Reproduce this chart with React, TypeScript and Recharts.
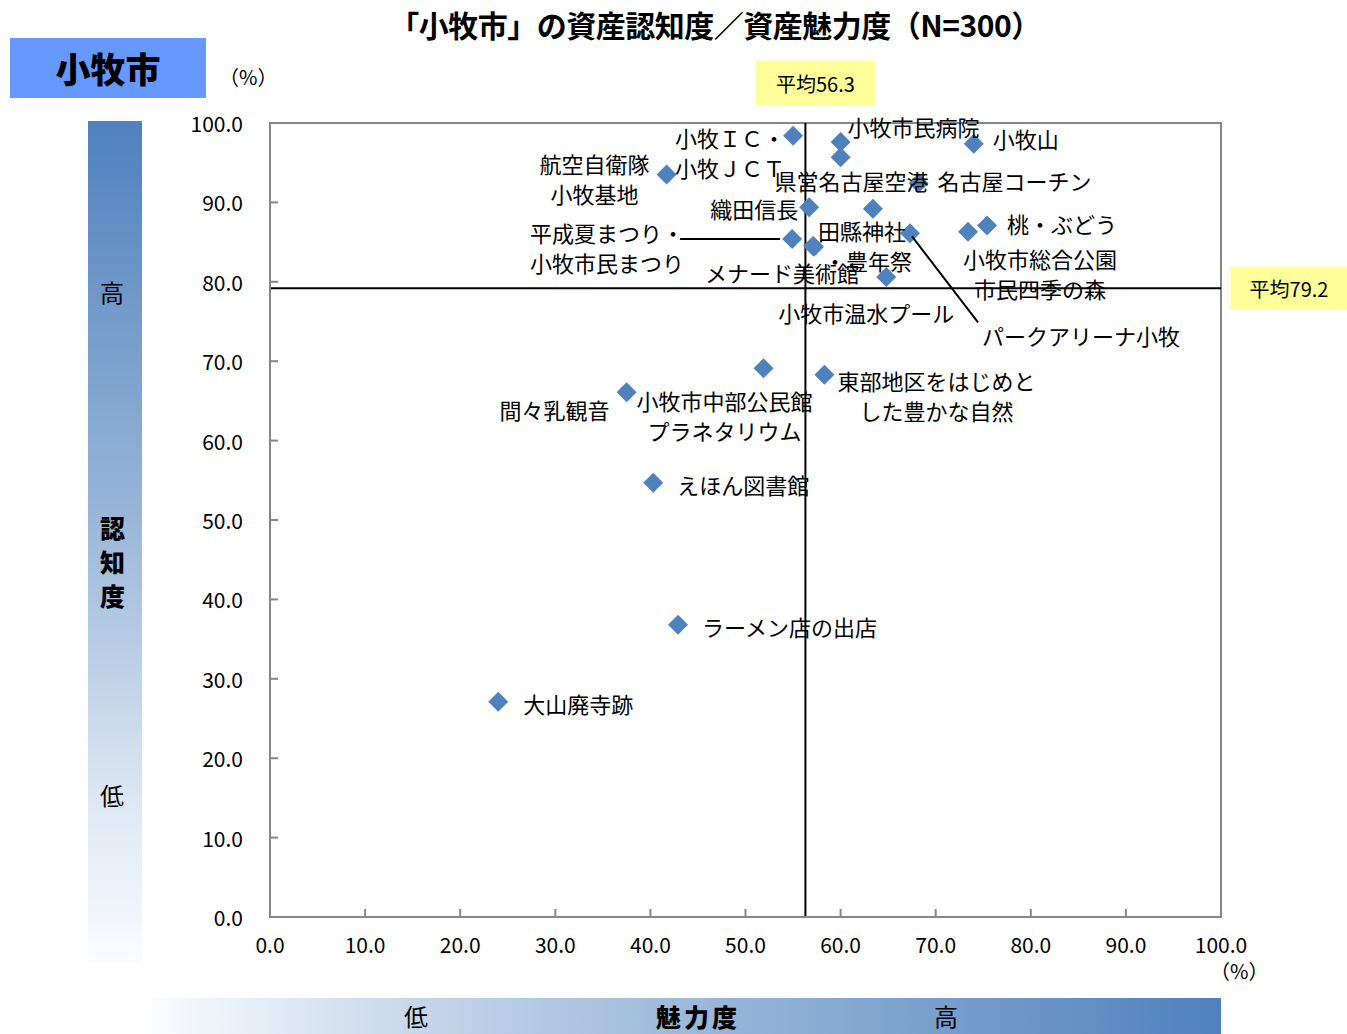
import React from "react";
import {
  ScatterChart,
  Scatter,
  XAxis,
  YAxis,
  ReferenceLine,
  ReferenceArea,
} from "recharts";

const FONT = '"Noto Sans CJK JP", "Noto Sans", sans-serif';

// 資産ごとの魅力度(x)・認知度(y)
const assetNames = [
  "小牧IC・小牧JCT",
  "小牧市民病院",
  "県営名古屋空港",
  "小牧山",
  "航空自衛隊小牧基地",
  "名古屋コーチン",
  "織田信長",
  "田縣神社",
  "パークアリーナ小牧",
  "平成夏まつり・小牧市民まつり",
  "メナード美術館",
  "豊年祭",
  "小牧市総合公園市民四季の森",
  "桃・ぶどう",
  "小牧市温水プール",
  "小牧市中部公民館プラネタリウム",
  "間々乳観音",
  "東部地区をはじめとした豊かな自然",
  "えほん図書館",
  "ラーメン店の出店",
  "大山廃寺跡",
];
const attraction = [
  55.0, 60.0, 60.0, 74.0, 41.7, 68.2, 56.7, 63.4, 67.3, 54.9, 57.1, 57.2, 73.4,
  75.4, 64.8, 51.9, 37.5, 58.3, 40.3, 42.9, 24.0,
];
const awareness = [
  98.4, 97.6, 95.7, 97.4, 93.5, 92.4, 89.4, 89.2, 86.1, 85.4, 84.5, 84.4, 86.3,
  87.1, 80.6, 69.1, 66.1, 68.3, 54.7, 36.8, 27.1,
];
const avgAttraction = 56.3;
const avgAwareness = 79.2;
const axisTicks = [0, 10, 20, 30, 40, 50, 60, 70, 80, 90, 100];

// ラベルの表示位置（点からのずれ）
type LabelPlace = {
  lines: string[];
  dx: number;
  dy: number;
  anchor: "start" | "middle" | "end";
  leader?: [number, number, number, number];
};
const labelPlaces: Record<string, LabelPlace> = {
  "小牧IC・小牧JCT": { lines: ["小牧ＩＣ・", "小牧ＪＣＴ"], dx: -118, dy: 1, anchor: "start" },
  小牧市民病院: { lines: ["小牧市民病院"], dx: 7, dy: -16, anchor: "start" },
  県営名古屋空港: { lines: ["県営名古屋空港"], dx: -66, dy: 23, anchor: "start" },
  小牧山: { lines: ["小牧山"], dx: 19, dy: -6, anchor: "start" },
  航空自衛隊小牧基地: { lines: ["航空自衛隊", "小牧基地"], dx: -72, dy: -12, anchor: "middle" },
  名古屋コーチン: { lines: ["名古屋コーチン"], dx: 19, dy: -3, anchor: "start" },
  織田信長: { lines: ["織田信長"], dx: -11, dy: 1, anchor: "end" },
  田縣神社: { lines: ["田縣神社"], dx: -55, dy: 21, anchor: "start" },
  パークアリーナ小牧: {
    lines: ["パークアリーナ小牧"],
    dx: 72,
    dy: 102,
    anchor: "start",
    leader: [2, 3, 68, 89],
  },
  "平成夏まつり・小牧市民まつり": {
    lines: ["平成夏まつり・", "小牧市民まつり"],
    dx: -185,
    dy: -7,
    anchor: "middle",
    leader: [-112, 0, -12, 0],
  },
  メナード美術館: { lines: ["メナード美術館"], dx: -108, dy: 26, anchor: "start" },
  豊年祭: { lines: ["・豊年祭"], dx: 10, dy: 13, anchor: "start" },
  小牧市総合公園市民四季の森: {
    lines: ["小牧市総合公園", "市民四季の森"],
    dx: 72,
    dy: 26,
    anchor: "middle",
  },
  "桃・ぶどう": { lines: ["桃・ぶどう"], dx: 20, dy: -2, anchor: "start" },
  小牧市温水プール: { lines: ["小牧市温水プール"], dx: -108, dy: 35, anchor: "start" },
  小牧市中部公民館プラネタリウム: {
    lines: ["小牧市中部公民館", "プラネタリウム"],
    dx: -39,
    dy: 32,
    anchor: "middle",
  },
  間々乳観音: { lines: ["間々乳観音"], dx: -17, dy: 17, anchor: "end" },
  東部地区をはじめとした豊かな自然: {
    lines: ["東部地区をはじめと", "した豊かな自然"],
    dx: 112,
    dy: 5,
    anchor: "middle",
  },
  えほん図書館: { lines: ["えほん図書館"], dx: 24, dy: 1, anchor: "start" },
  ラーメン店の出店: { lines: ["ラーメン店の出店"], dx: 24, dy: 1, anchor: "start" },
  大山廃寺跡: { lines: ["大山廃寺跡"], dx: 25, dy: 1, anchor: "start" },
};

const points = assetNames.map((name, i) => ({
  name,
  x: attraction[i],
  y: awareness[i],
}));

const Diamond = (props: any) => {
  const { cx, cy } = props;
  const r = 10;
  return (
    <path
      d={`M${cx},${cy - r} L${cx + r},${cy} L${cx},${cy + r} L${cx - r},${cy} Z`}
      fill="#4F81BD"
    />
  );
};

const PointLabel = (props: any) => {
  const { cx, cy, payload } = props;
  const place = labelPlaces[payload.name];
  if (!place) return null;
  return (
    <g>
      {place.leader && (
        <line
          x1={cx + place.leader[0]}
          y1={cy + place.leader[1]}
          x2={cx + place.leader[2]}
          y2={cy + place.leader[3]}
          stroke="#000"
          strokeWidth={2}
        />
      )}
      {place.lines.map((line, k) => (
        <text
          key={k}
          x={cx + place.dx}
          y={cy + place.dy + k * 30}
          textAnchor={place.anchor}
          dominantBaseline="central"
          fontFamily={FONT}
          fontSize={22}
          fill="#000"
        >
          {line}
        </text>
      ))}
    </g>
  );
};

const XTick = (props: any) => {
  const { x, y, payload } = props;
  return (
    <g>
      <line x1={x} y1={y} x2={x} y2={y - 8} stroke="#868686" strokeWidth={2} />
      <text
        x={x}
        y={y + 27}
        textAnchor="middle"
        dominantBaseline="central"
        fontFamily={FONT}
        fontSize={21}
        fill="#000"
      >
        {payload.value.toFixed(1)}
      </text>
    </g>
  );
};

const YTick = (props: any) => {
  const { x, y, payload } = props;
  return (
    <g>
      <line x1={x} y1={y} x2={x + 8} y2={y} stroke="#868686" strokeWidth={2} />
      <text
        x={x - 27}
        y={y}
        textAnchor="end"
        dominantBaseline="central"
        fontFamily={FONT}
        fontSize={21}
        fill="#000"
      >
        {payload.value.toFixed(1)}
      </text>
    </g>
  );
};

const AvgBox = ({ cx, cy, w, h, text }: any) => (
  <g>
    <rect x={cx - w / 2} y={cy - h / 2} width={w} height={h} fill="#FFFF99" />
    <text
      x={cx}
      y={cy}
      textAnchor="middle"
      dominantBaseline="central"
      fontFamily={FONT}
      fontSize={20}
      fill="#000"
    >
      {text}
    </text>
  </g>
);

const abs = (left: number, top: number, extra: React.CSSProperties = {}) =>
  ({ position: "absolute", left, top, fontFamily: FONT, ...extra } as React.CSSProperties);

export default function App() {
  return (
    <div style={{ position: "absolute", left: 0, top: 0, width: 1347, height: 1034, background: "#fff", overflow: "hidden" }}>
      {/* 認知度の帯 */}
      <div
        style={abs(88, 121, {
          width: 54,
          height: 841,
          background: "linear-gradient(to bottom, #4F81BD 0%, #95B3D7 45%, #DCE6F2 80%, #FAFCFF 100%)",
        })}
      />
      {/* 魅力度の帯 */}
      <div
        style={abs(152, 998, {
          width: 1069,
          height: 36,
          background: "linear-gradient(to right, #FAFCFF 0%, #C5D6EA 25%, #95B3D7 55%, #4F81BD 100%)",
        })}
      />
      <div style={abs(100, 277, { fontSize: 24, lineHeight: "30px" })}>高</div>
      <div style={abs(100, 510, { fontSize: 25, lineHeight: "34px", fontWeight: 900, width: 26 })}>
        認<br />知<br />度
      </div>
      <div style={abs(100, 780, { fontSize: 24, lineHeight: "30px" })}>低</div>
      <div style={abs(404, 1001, { fontSize: 24, lineHeight: "30px" })}>低</div>
      <div style={abs(656, 1001, { fontSize: 25, lineHeight: "30px", fontWeight: 900, letterSpacing: 3 })}>魅力度</div>
      <div style={abs(934, 1001, { fontSize: 24, lineHeight: "30px" })}>高</div>

      {/* タイトルと市名 */}
      <div style={abs(0, 5, { width: 1430, textAlign: "center", fontSize: 30, lineHeight: "38px", fontWeight: 700, letterSpacing: -0.5 })}>
        「小牧市」の資産認知度／資産魅力度（N=300）
      </div>
      <div
        style={abs(10, 38, {
          width: 196,
          height: 60,
          background: "#6699FF",
          fontSize: 35,
          fontWeight: 900,
          lineHeight: "60px",
          textAlign: "center",
        })}
      >
        小牧市
      </div>
      <div style={abs(219, 64, { fontSize: 20, lineHeight: "26px" })}>（%）</div>
      <div style={abs(1210, 959, { fontSize: 20, lineHeight: "24px" })}>（%）</div>

      <div style={{ position: "absolute", left: 0, top: 0 }}>
        <ScatterChart
          width={1347}
          height={1034}
          margin={{ top: 123, right: 126, bottom: 77, left: 210 }}
        >
          <ReferenceArea
            x1={0}
            x2={100}
            y1={0}
            y2={100}
            fill="none"
            stroke="#868686"
            strokeWidth={2}
            ifOverflow="visible"
          />
          <XAxis
            type="number"
            dataKey="x"
            domain={[0, 100]}
            ticks={axisTicks}
            height={40}
            tickLine={false}
            tickSize={0}
            tickMargin={0}
            axisLine={{ stroke: "#868686", strokeWidth: 2 }}
            tick={<XTick />}
            interval={0}
          />
          <YAxis
            type="number"
            dataKey="y"
            domain={[0, 100]}
            ticks={axisTicks}
            width={60}
            tickLine={false}
            tickSize={0}
            tickMargin={0}
            axisLine={{ stroke: "#868686", strokeWidth: 2 }}
            tick={<YTick />}
            interval={0}
          />
          <ReferenceLine
            x={avgAttraction}
            stroke="#000"
            strokeWidth={2}
            label={(p: any) => (
              <AvgBox cx={p.viewBox.x + 10} cy={83} w={119} h={45} text={`平均${avgAttraction}`} />
            )}
          />
          <ReferenceLine
            y={avgAwareness}
            stroke="#000"
            strokeWidth={2}
            label={(p: any) => (
              <AvgBox
                cx={p.viewBox.x + p.viewBox.width + 68}
                cy={p.viewBox.y}
                w={117}
                h={43}
                text={`平均${avgAwareness}`}
              />
            )}
          />
          <Scatter data={points} shape={<Diamond />} isAnimationActive={false} />
          <Scatter data={points} shape={<PointLabel />} isAnimationActive={false} />
        </ScatterChart>
      </div>
    </div>
  );
}
